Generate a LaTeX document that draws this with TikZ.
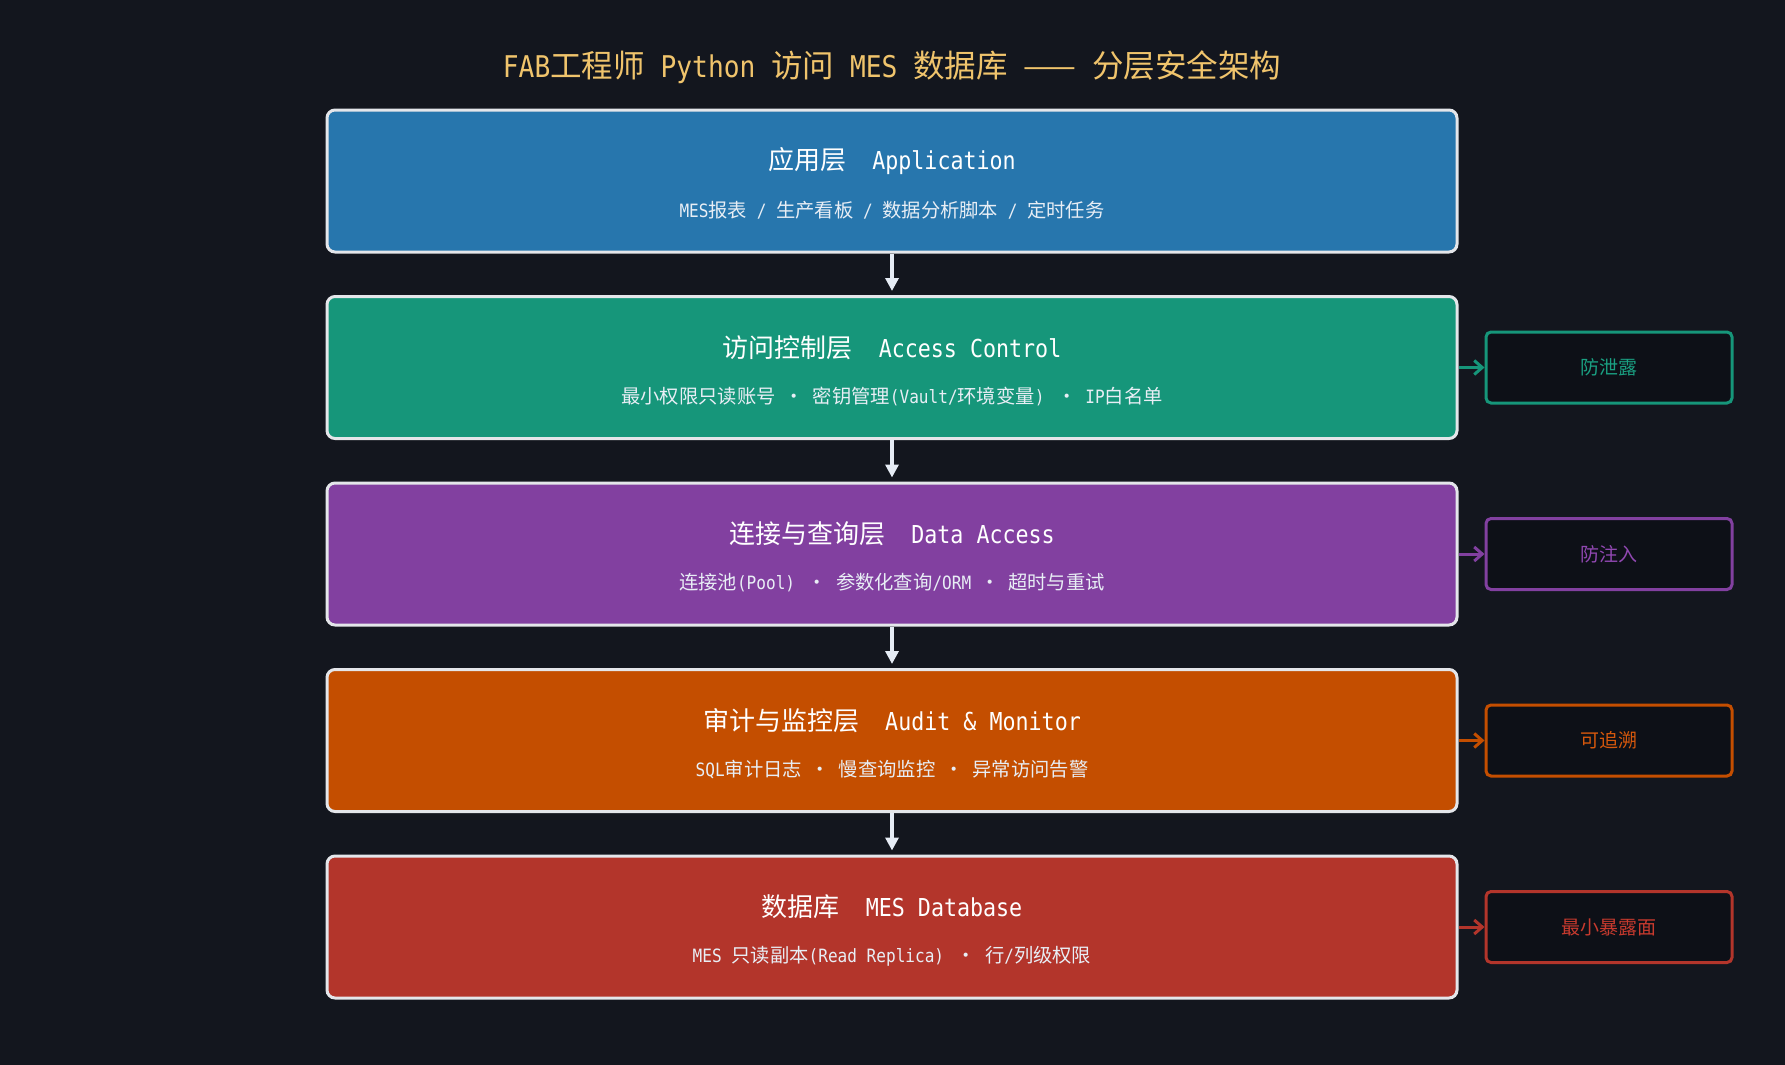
\documentclass[tikz,border=0pt]{standalone}
\usepackage{fontspec}
\setmainfont{Noto Sans CJK SC}
\newfontfamily\la{DejaVu Sans Mono}[Scale=0.95, FakeStretch=0.877]
\usetikzlibrary{arrows.meta}
\definecolor{bg}{RGB}{19,22,30}
\definecolor{sidebg}{RGB}{13,16,23}
\definecolor{titlecol}{RGB}{240,196,108}
\definecolor{cblue}{RGB}{39,118,173}
\definecolor{cteal}{RGB}{22,150,122}
\definecolor{cpurple}{RGB}{130,64,160}
\definecolor{corange}{RGB}{196,78,0}
\definecolor{cred}{RGB}{179,53,43}
\definecolor{tteal}{RGB}{26,160,130}
\definecolor{tpurple}{RGB}{145,72,178}
\definecolor{torange}{RGB}{214,88,12}
\definecolor{tred}{RGB}{200,58,46}
\definecolor{boxline}{RGB}{228,230,234}
\definecolor{subcol}{RGB}{232,238,245}
\definecolor{arrowcol}{RGB}{230,236,245}
\newcommand\sepdot{\hspace{0.46em}·\hspace{0.46em}}
\newcommand\lp{{\la(}}
\newcommand\rp{{\la)}\hspace{0.2em}}
\begin{document}
\begin{tikzpicture}[x=1pt,y=-1pt,
  layerbox/.style={draw=boxline, line width=3pt, rounded corners=8pt,
    minimum width=1130pt, minimum height=142pt, inner sep=0pt},
  headtext/.style={text=white, font=\fontsize{26}{30}\selectfont, inner sep=0pt},
  subtext/.style={text=subcol, font=\fontsize{19.3}{23}\selectfont, inner sep=0pt},
  sidebox/.style={fill=sidebg, line width=3pt, rounded corners=5pt,
    minimum width=246pt, minimum height=71pt, inner sep=0pt,
    font=\fontsize{19}{23}\selectfont},
  downarrow/.style={draw=arrowcol, line width=4pt, shorten >=4pt,
    -{Triangle[length=13pt,width=13pt]}},
  sidearrow/.style={line width=3pt,
    -{Straight Barb[length=8pt,width=14pt,line width=3pt]}}
]
\useasboundingbox (0,0) rectangle (1785,1065);
\fill[bg] (0,0) rectangle (1785,1065);

\node[text=titlecol, font=\fontsize{31.5}{36}\selectfont, inner sep=0pt] (title) at (892,67)
  {{\la FAB}工程师{\la\ Python\ }访问{\la\ MES\ }数据库{\la\ }——{\la\ }分层安全架构};

% layer boxes
\node[layerbox, fill=cblue]   (b1) at (892,181) {};
\node[layerbox, fill=cteal]   (b2) at (892,367.5) {};
\node[layerbox, fill=cpurple] (b3) at (892,554) {};
\node[layerbox, fill=corange] (b4) at (892,740.5) {};
\node[layerbox, fill=cred]    (b5) at (892,927) {};

% headings
\node[headtext] (h1) at (892,161) {应用层{\la\ \ Application}};
\node[headtext] (h2) at (892,347.5) {访问控制层{\la\ \ Access\ Control}};
\node[headtext] (h3) at (892,534) {连接与查询层{\la\ \ Data\ Access}};
\node[headtext] (h4) at (892,720.5) {审计与监控层{\la\ \ Audit\ \&\ Monitor}};
\node[headtext] (h5) at (892,907) {数据库{\la\ \ MES\ Database}};

% subtitles
\node[subtext] (t1) at (892,210) {{\la MES}报表{\la\ /\ }生产看板{\la\ /\ }数据分析脚本{\la\ /\ }定时任务};
\node[subtext] (t2) at (892,396.5) {最小权限只读账号\sepdot 密钥管理\lp{\la Vault/}环境变量\rp\sepdot{\la IP}白名单};
\node[subtext] (t3) at (892,583) {连接池\lp{\la Pool}\rp\sepdot 参数化查询{\la/ORM}\sepdot 超时与重试};
\node[subtext] (t4) at (892,769.5) {{\la SQL}审计日志\sepdot 慢查询监控\sepdot 异常访问告警};
\node[subtext] (t5) at (892,956) {{\la MES\ }只读副本\lp{\la Read\ Replica}\rp\sepdot 行{\la/}列级权限};

% side boxes
\node[sidebox, draw=cteal, text=tteal]     (s2) at (1609,367.5) {防泄露};
\node[sidebox, draw=cpurple, text=tpurple] (s3) at (1609,554) {防注入};
\node[sidebox, draw=corange, text=torange] (s4) at (1609,740.5) {可追溯};
\node[sidebox, draw=cred, text=tred]       (s5) at (1609,927) {最小暴露面};

% down arrows
\draw[downarrow] (b1.south) -- (b2.north);
\draw[downarrow] (b2.south) -- (b3.north);
\draw[downarrow] (b3.south) -- (b4.north);
\draw[downarrow] (b4.south) -- (b5.north);

% side arrows
\draw[sidearrow, draw=cteal]   (b2.east) -- (s2.west);
\draw[sidearrow, draw=cpurple] (b3.east) -- (s3.west);
\draw[sidearrow, draw=corange] (b4.east) -- (s4.west);
\draw[sidearrow, draw=cred]    (b5.east) -- (s5.west);
\end{tikzpicture}
\end{document}
